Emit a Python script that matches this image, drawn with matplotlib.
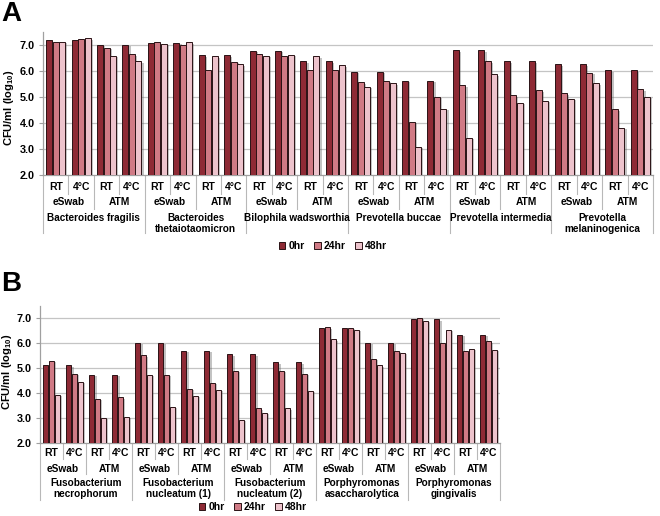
import matplotlib
matplotlib.use("Agg")
import matplotlib.pyplot as plt
import matplotlib.patheffects as pe
from matplotlib.patches import Patch
import numpy as np

plt.rcParams['font.family'] = ['Liberation Sans', 'DejaVu Sans']
plt.rcParams['mathtext.fontset'] = 'custom'
plt.rcParams['mathtext.rm'] = 'Liberation Sans'
plt.rcParams['mathtext.bf'] = 'Liberation Sans:bold'

series_names = ["0hr", "24hr", "48hr"]
temps = ["RT", "4°C"]
media = ["eSwab", "ATM"]

species_a = ["Bacteroides fragilis", "Bacteroides\nthetaiotaomicron", "Bilophila wadsworthia",
             "Prevotella buccae", "Prevotella intermedia", "Prevotella\nmelaninogenica"]
a_0hr = [7.18, 7.19, 7.00, 7.00,  7.08, 7.08, 6.60, 6.60,  6.77, 6.77, 6.38, 6.38,
         5.96, 5.96, 5.62, 5.62,  6.80, 6.80, 6.37, 6.37,  6.26, 6.26, 6.03, 6.03]
a_24hr = [7.13, 7.22, 6.90, 6.64,  7.10, 7.00, 6.04, 6.36,  6.64, 6.59, 6.03, 6.03,
          5.57, 5.63, 4.04, 5.01,  5.45, 6.37, 5.07, 5.26,  5.14, 5.92, 4.52, 5.29]
a_48hr = [7.13, 7.25, 6.59, 6.38,  7.05, 7.10, 6.56, 6.26,  6.59, 6.62, 6.56, 6.22,
          5.39, 5.52, 3.09, 4.55,  3.44, 5.87, 4.78, 4.85,  4.92, 5.53, 3.82, 5.01]

species_b = ["Fusobacterium\nnecrophorum", "Fusobacterium\nnucleatum (1)", "Fusobacterium\nnucleatum (2)",
             "Porphyromonas\nasaccharolytica", "Porphyromonas\ngingivalis"]
b_0hr = [5.12, 5.12, 4.72, 4.72,  6.02, 6.02, 5.69, 5.69,  5.56, 5.56, 5.24, 5.24,
         6.62, 6.62, 6.02, 6.02,  6.97, 6.97, 6.33, 6.33]
b_24hr = [5.29, 4.78, 3.77, 3.83,  5.52, 4.73, 4.16, 4.40,  4.89, 3.39, 4.89, 4.77,
          6.65, 6.63, 5.38, 5.69,  7.03, 6.00, 5.68, 6.08]
b_48hr = [3.92, 4.45, 3.00, 3.04,  4.72, 3.45, 3.88, 4.14,  2.91, 3.21, 3.39, 4.09,
          6.16, 6.53, 5.12, 5.62,  6.91, 6.55, 5.77, 5.74]

yticks = [2.0, 3.0, 4.0, 5.0, 6.0, 7.0]
colors = ["#8E2A35", "#D07A85", "#EDC3CC"]
edge = "#2a1215"

W, H = 660, 516
fig = plt.figure(figsize=(W / 100, H / 100), dpi=100)


def px_axes(left, right, top, bottom):
    return fig.add_axes([left / W, 1 - bottom / H, (right - left) / W, (bottom - top) / H])


def draw_panel(ax, species, vals, ax_h_px, lvl_txt, lvl_sep):
    n = len(vals[0])
    x = np.arange(n)
    offs = [-0.255, 0.0, 0.255]
    for s in range(3):
        bars = ax.bar(x + offs[s], vals[s], width=0.235, bottom=0, color=colors[s],
                      edgecolor=edge, linewidth=0.7, zorder=3)
        for b in bars:
            b.set_path_effects([pe.SimplePatchShadow(offset=(1.6, -1.0), shadow_rgbFace='#555555', alpha=0.35),
                                pe.Normal()])
    ax.set_ylim(2.0, 7.5)
    ax.set_xlim(-0.5, n - 0.5)
    ax.set_yticks(yticks)
    ax.set_yticklabels([f"{v:.1f}" for v in yticks], fontsize=7.8, fontweight='bold')
    ax.tick_params(axis='y', length=3, width=0.8, color='#a0a0a0', pad=3)
    ax.set_xticks([])
    for v in yticks[1:]:
        ax.axhline(v, color='#c4c4c4', lw=0.9, zorder=1)
    for sp in ['top', 'right']:
        ax.spines[sp].set_visible(False)
    ax.spines['left'].set_color('#a0a0a0')
    ax.spines['bottom'].set_color('#a0a0a0')
    ax.spines['left'].set_linewidth(0.9)
    ax.spines['bottom'].set_linewidth(0.9)
    tr = ax.get_xaxis_transform()
    # separators
    for k in range(n + 1):
        if k % 4 == 0:
            L = lvl_sep[2]
        elif k % 2 == 0:
            L = lvl_sep[1]
        else:
            L = lvl_sep[0]
        ax.plot([k - 0.5, k - 0.5], [0, -L / ax_h_px], transform=tr, color='#b8b8b8', lw=0.8, clip_on=False)
    # labels level 1
    for k in range(n):
        ax.text(k, -lvl_txt[0] / ax_h_px, temps[k % 2], transform=tr, ha='center', va='center',
                fontsize=7.5, fontweight='bold')
    for k in range(n // 2):
        ax.text(2 * k + 0.5, -lvl_txt[1] / ax_h_px, media[k % 2], transform=tr, ha='center', va='center',
                fontsize=7.3, fontweight='bold')
    for k, sp_name in enumerate(species):
        ax.text(4 * k + 1.5, -lvl_txt[2] / ax_h_px, sp_name, transform=tr, ha='center', va='top',
                fontsize=7.2, fontweight='bold', linespacing=1.15)


ylab = r"CFU/ml (log$_{\mathbf{10}}$)"

# Panel A
axA = px_axes(43, 653, 32, 175)
draw_panel(axA, species_a, [a_0hr, a_24hr, a_48hr], 143, (12, 27, 38), (19, 34, 58))
fig.text(9 / W, 1 - 108 / H, ylab, rotation=90, ha='center', va='center', fontsize=8, fontweight='bold')

# Panel B
axB = px_axes(40, 500, 306, 442.7)
draw_panel(axB, species_b, [b_0hr, b_24hr, b_48hr], 136.7, (10, 26, 35), (16, 31, 57))
fig.text(7 / W, 1 - 372 / H, ylab, rotation=90, ha='center', va='center', fontsize=8, fontweight='bold')

handles = [Patch(facecolor=colors[i], edgecolor=edge, linewidth=0.7, label=series_names[i]) for i in range(3)]
for cx, cy in [(333, 246), (253, 507)]:
    fig.legend(handles=handles, loc='center', bbox_to_anchor=(cx / W, 1 - cy / H), ncol=3, frameon=False,
               prop={'size': 7.5, 'weight': 'bold'}, handlelength=0.65, handleheight=0.65,
               handletextpad=0.3, columnspacing=0.9, borderpad=0)

fig.text(1 / W, 1 - 1 / H, "A", fontsize=20, fontweight='bold', ha='left', va='top')
fig.text(1 / W, 1 - 271 / H, "B", fontsize=20, fontweight='bold', ha='left', va='top')

fig.savefig("out.png", dpi=100)
